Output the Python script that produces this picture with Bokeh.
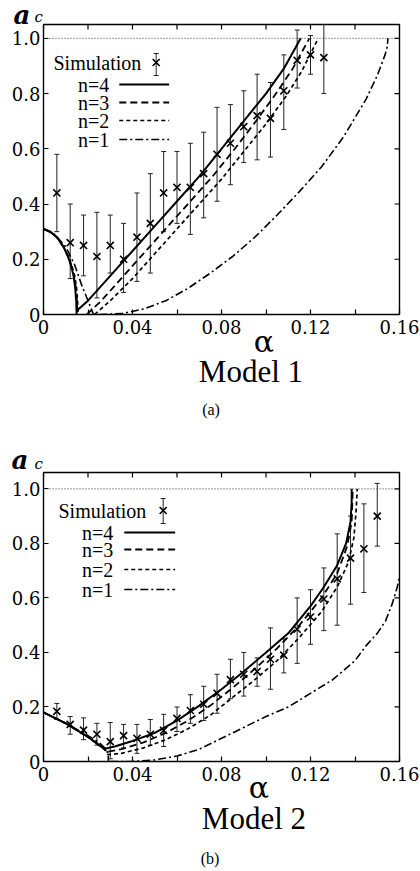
import math
from bokeh.plotting import figure
from bokeh.layouts import column
from bokeh.models import (Range1d, LinearAxis, FixedTicker, Label, Span, Whisker,
                          TeeHead, ColumnDataSource, CustomJSTickFormatter)
from bokeh.embed import file_html
from bokeh.resources import INLINE

NaN = float("nan")
SERIF = "DejaVu Serif"
TIMES = "Liberation Serif"

# ---------------------------------------------------------------- axes
alpha_ticks = [0, 0.04, 0.08, 0.12, 0.16]
alpha_minor_ticks = [0.02, 0.06, 0.10, 0.14]
alpha_tick_labels = ["0", "0.04", "0.08", "0.12", "0.16"]
ac_ticks = [0, 0.2, 0.4, 0.6, 0.8, 1.0]
ac_tick_labels = ["0", "0.2", "0.4", "0.6", "0.8", "1.0"]
alpha_max = 0.16
ac_limit = 1.0

legend_labels = ["n=4", "n=3", "n=2", "n=1"]

# ---------------------------------------------------------------- Model 1
m1_sim_alpha = [0.006, 0.012, 0.018, 0.024, 0.030, 0.036, 0.042, 0.048, 0.054, 0.060, 0.066,
                0.072, 0.078, 0.084, 0.090, 0.096, 0.102, 0.108, 0.114, 0.120, 0.126]
m1_sim_ac = [0.44, 0.26, 0.25, 0.21, 0.25, 0.20, 0.28, 0.33, 0.44, 0.46, 0.46,
             0.51, 0.58, 0.62, 0.68, 0.72, 0.71, 0.81, 0.92, 0.94, 0.93]
m1_sim_lo = [0.30, 0.13, 0.14, 0.06, 0.15, 0.08, 0.12, 0.15, 0.30, 0.33, 0.29,
             0.35, 0.41, 0.47, 0.55, 0.56, 0.57, 0.67, 0.82, 0.87, 0.80]
m1_sim_hi = [0.58, 0.40, 0.36, 0.37, 0.36, 0.33, 0.44, 0.51, 0.59, 0.59, 0.62,
             0.66, 0.75, 0.76, 0.81, 0.87, 0.84, 0.94, 1.03, 1.01, 1.08]

m1_n4_alpha = [0, 0.003, 0.006, 0.009, 0.011, 0.0125, 0.0135, 0.0142, 0.0147, 0.0149, NaN,
               0.0152, 0.020, 0.030, 0.040, 0.050, 0.060, 0.070, 0.080, 0.090, 0.100, 0.108, 0.1156]
m1_n4_ac = [0.31, 0.30, 0.28, 0.245, 0.21, 0.175, 0.14, 0.10, 0.05, 0.0, NaN,
            0.015, 0.05, 0.14, 0.23, 0.32, 0.41, 0.50, 0.60, 0.70, 0.80, 0.89, 1.0]
m1_n3_alpha = [0, 0.003, 0.006, 0.009, 0.011, 0.0125, 0.0137, 0.0145, 0.015, 0.0152, NaN,
               0.0195, 0.026, 0.036, 0.046, 0.056, 0.066, 0.076, 0.086, 0.0955, 0.1045, 0.112, 0.1195]
m1_n3_ac = [0.31, 0.30, 0.28, 0.245, 0.21, 0.175, 0.14, 0.10, 0.05, 0.0, NaN,
            0.0, 0.05, 0.14, 0.23, 0.32, 0.41, 0.50, 0.60, 0.70, 0.80, 0.89, 1.0]
m1_n2_alpha = [0, 0.003, 0.006, 0.009, 0.0112, 0.0128, 0.014, 0.0148, 0.0153, 0.0156, NaN,
               0.023, 0.030, 0.040, 0.050, 0.060, 0.070, 0.080, 0.090, 0.100, 0.109, 0.116, 0.1235]
m1_n2_ac = [0.31, 0.30, 0.28, 0.245, 0.21, 0.175, 0.14, 0.10, 0.05, 0.0, NaN,
            0.0, 0.05, 0.13, 0.22, 0.31, 0.40, 0.49, 0.59, 0.69, 0.79, 0.88, 1.0]
m1_n1_alpha = [0, 0.005, 0.010, 0.014, 0.017, 0.020, 0.0215, 0.0225, NaN,
               0.025, 0.035, 0.045, 0.055, 0.065, 0.075, 0.085, 0.095, 0.105, 0.115,
               0.125, 0.135, 0.145, 0.150, 0.1535, 0.1545, 0.1548]
m1_n1_ac = [0.31, 0.29, 0.245, 0.18, 0.11, 0.05, 0.02, 0.0, NaN,
            0.0, 0.003, 0.02, 0.05, 0.095, 0.15, 0.21, 0.28, 0.36, 0.445,
            0.535, 0.645, 0.78, 0.865, 0.94, 0.97, 1.0]

# ---------------------------------------------------------------- Model 2
m2_sim_alpha = [0.006, 0.012, 0.018, 0.024, 0.030, 0.036, 0.042, 0.048, 0.054, 0.060, 0.066,
                0.072, 0.078, 0.084, 0.090, 0.096, 0.102, 0.108, 0.114, 0.120, 0.126,
                0.132, 0.138, 0.144, 0.150]
m2_sim_ac = [0.184, 0.136, 0.115, 0.100, 0.073, 0.095, 0.085, 0.100, 0.114, 0.158, 0.187,
             0.21, 0.25, 0.30, 0.32, 0.33, 0.375, 0.39, 0.485, 0.53, 0.596,
             0.67, 0.746, 0.78, 0.90]
m2_sim_lo = [0.154, 0.10, 0.08, 0.06, 0.01, 0.05, 0.03, 0.06, 0.055, 0.11, 0.14,
             0.15, 0.177, 0.23, 0.24, 0.276, 0.265, 0.325, 0.36, 0.43, 0.48,
             0.50, 0.577, 0.62, 0.79]
m2_sim_hi = [0.213, 0.165, 0.16, 0.14, 0.143, 0.136, 0.136, 0.154, 0.173, 0.20, 0.245,
             0.276, 0.32, 0.375, 0.40, 0.38, 0.49, 0.45, 0.60, 0.63, 0.71,
             0.835, 0.90, 0.945, 1.02]

m2_n4_alpha = [0, 0.005, 0.010, 0.015, 0.020, 0.025, 0.0275, 0.032, 0.040, 0.050, 0.060, 0.070,
               0.080, 0.090, 0.100, 0.110, 0.120, 0.126, 0.132, 0.136, 0.138, 0.1385, 0.1385]
m2_n4_ac = [0.18, 0.16, 0.14, 0.115, 0.09, 0.06, 0.047, 0.055, 0.075, 0.105, 0.15, 0.205,
            0.265, 0.33, 0.40, 0.47, 0.57, 0.64, 0.72, 0.80, 0.88, 0.95, 1.0]
m2_n3_alpha = [0, 0.005, 0.010, 0.015, 0.020, 0.025, 0.0275, 0.028, 0.035, 0.045, 0.055, 0.065,
               0.075, 0.085, 0.095, 0.105, 0.115, 0.125, 0.132, 0.1365, 0.1385, 0.139]
m2_n3_ac = [0.18, 0.16, 0.14, 0.115, 0.09, 0.06, 0.045, 0.035, 0.045, 0.07, 0.105, 0.15,
            0.205, 0.27, 0.34, 0.415, 0.50, 0.60, 0.69, 0.79, 0.88, 1.0]
m2_n2_alpha = [0, 0.005, 0.010, 0.015, 0.020, 0.025, 0.028, 0.029, 0.035, 0.045, 0.055, 0.065,
               0.075, 0.085, 0.095, 0.105, 0.115, 0.125, 0.132, 0.137, 0.1395, 0.1405, 0.141]
m2_n2_ac = [0.18, 0.16, 0.14, 0.115, 0.09, 0.06, 0.04, 0.025, 0.03, 0.05, 0.08, 0.12,
            0.17, 0.235, 0.30, 0.37, 0.455, 0.55, 0.64, 0.73, 0.82, 0.92, 1.0]
m2_n1_alpha = [0, 0.010, 0.020, 0.025, 0.0275, 0.029, 0.0292, NaN,
               0.030, 0.040, 0.050, 0.060, 0.070, 0.080, 0.090, 0.100, 0.110, 0.120,
               0.130, 0.140, 0.145, 0.150, 0.1537, 0.1568, 0.159, 0.160]
m2_n1_ac = [0.18, 0.14, 0.095, 0.07, 0.05, 0.03, 0.0, NaN,
            0.0, 0.0, 0.006, 0.02, 0.045, 0.085, 0.125, 0.165, 0.20, 0.25,
            0.30, 0.37, 0.425, 0.47, 0.515, 0.58, 0.64, 0.68]

# line style per order n
curve_styles = {
    "n=4": dict(line_dash="solid", line_width=2.0),
    "n=3": dict(line_dash="7 4", line_width=1.8),
    "n=2": dict(line_dash="4 3", line_width=1.7),
    "n=1": dict(line_dash="8 3 2 3", line_width=1.6),
}

FRAME_LEFT, FRAME_RIGHT = 42, 399
WIDTH = 420


def tick_formatter(vals, labs):
    return CustomJSTickFormatter(args=dict(vals=vals, labs=labs), code="""
        let best = 0;
        for (let i = 0; i < vals.length; i++) {
            if (Math.abs(vals[i] - tick) < Math.abs(vals[best] - tick)) best = i;
        }
        return labs[best];
    """)


def style_axis(ax, standoff):
    ax.axis_line_color = None
    ax.major_tick_in = 5
    ax.major_tick_out = 0
    ax.minor_tick_in = 5
    ax.minor_tick_out = 0
    ax.major_tick_line_color = "black"
    ax.minor_tick_line_color = "black"
    ax.major_tick_line_width = 1.2
    ax.minor_tick_line_width = 1.2
    ax.major_label_text_font = SERIF
    ax.major_label_text_font_size = "18px"
    ax.major_label_text_color = "black"
    ax.major_label_standoff = standoff


def make_panel(cfg):
    # pixel positions in cfg are measured from the top-left of this panel
    h = cfg["height"]
    top, bottom = cfg["frame_top"], cfg["frame_bottom"]
    y_max = cfg["y_max"]
    p = figure(width=WIDTH, height=h, x_range=Range1d(0, alpha_max), y_range=Range1d(0, y_max),
               output_backend="svg", toolbar_location=None,
               x_axis_location=None, y_axis_location=None,
               min_border_left=FRAME_LEFT, min_border_right=WIDTH - FRAME_RIGHT,
               min_border_top=top, min_border_bottom=h - bottom)
    p.outline_line_color = "black"
    p.outline_line_width = 1.4
    p.grid.grid_line_color = None

    xax = LinearAxis(ticker=FixedTicker(ticks=alpha_ticks, minor_ticks=alpha_minor_ticks),
                     formatter=tick_formatter(alpha_ticks, alpha_tick_labels))
    style_axis(xax, 5)
    p.add_layout(xax, "below")
    yax = LinearAxis(ticker=FixedTicker(ticks=ac_ticks, minor_ticks=[]),
                     formatter=tick_formatter(ac_ticks, ac_tick_labels))
    style_axis(yax, 3)
    p.add_layout(yax, "left")

    # inward ticks on the top and right edges (outer halves fall outside the frame)
    all_alpha_ticks = sorted(alpha_ticks + alpha_minor_ticks)
    p.scatter(all_alpha_ticks, [y_max] * len(all_alpha_ticks), marker="dash", angle=math.pi / 2,
              size=10, line_color="black", line_width=1.2)
    p.scatter([alpha_max] * len(ac_ticks), ac_ticks, marker="dash", size=10,
              line_color="black", line_width=1.2)

    def to_data(px, py):
        a = (px - FRAME_LEFT) / (FRAME_RIGHT - FRAME_LEFT) * alpha_max
        y = y_max * (bottom - py) / (bottom - top)
        return a, y

    def caption(pos, text, font, size, side, align="center", style="normal"):
        # labels kept in side panels are drawn without clipping to the frame
        x, y = to_data(*pos)
        p.add_layout(Label(x=x, y=y, text=text, text_font=font, text_font_size=size,
                           text_font_style=style, text_align=align,
                           text_baseline="middle", text_color="black"), side)

    # a_c = 1 reference line
    p.add_layout(Span(location=ac_limit, dimension="width", line_color="#333",
                      line_width=1, line_dash="1 2"))

    # theory curves
    for name, (xs, ys) in cfg["curves"].items():
        p.line(xs, ys, line_color="black", **curve_styles[name])

    # simulation with error bars
    src = ColumnDataSource(dict(alpha=cfg["sim"][0], ac=cfg["sim"][1],
                                lo=cfg["sim"][2], hi=cfg["sim"][3]))
    p.add_layout(Whisker(source=src, base="alpha", lower="lo", upper="hi",
                         line_color="#222", line_width=1,
                         upper_head=TeeHead(size=5, line_color="#222", line_width=1),
                         lower_head=TeeHead(size=5, line_color="#222", line_width=1)))
    p.scatter("alpha", "ac", source=src, marker="x", size=10, line_color="black",
              line_width=1.6)

    # legend: label text on the left, sample on the right
    lg = cfg["legend"]
    sx, sy = to_data(lg["sim_text_x"], lg["sim_y"])
    p.add_layout(Label(x=sx, y=sy, text="Simulation", text_font=TIMES, text_font_size="20px",
                       text_align="left", text_baseline="middle", text_color="black"))
    mx, my = to_data(lg["marker_x"], lg["sim_y"])
    _, mlo = to_data(0, lg["bar"][1])
    _, mhi = to_data(0, lg["bar"][0])
    msrc = ColumnDataSource(dict(alpha=[mx], ac=[my], lo=[mlo], hi=[mhi]))
    p.add_layout(Whisker(source=msrc, base="alpha", lower="lo", upper="hi",
                         line_color="#222", line_width=1,
                         upper_head=TeeHead(size=5, line_color="#222", line_width=1),
                         lower_head=TeeHead(size=5, line_color="#222", line_width=1)))
    p.scatter("alpha", "ac", source=msrc, marker="x", size=10, line_color="black",
              line_width=1.6)
    for name, row_y in zip(legend_labels, lg["rows"]):
        tx, ty = to_data(lg["text_right"], row_y)
        p.add_layout(Label(x=tx, y=ty, text=name, text_font=TIMES, text_font_size="20px",
                           text_align="right", text_baseline="middle", text_color="black"))
        x0, y0 = to_data(lg["line"][0], row_y)
        x1, _ = to_data(lg["line"][1], row_y)
        p.segment(x0=[x0], y0=[y0], x1=[x1], y1=[y0], line_color="black",
                  **curve_styles[name])

    # texts around the frame; each goes to a side whose border has room for it
    caption(cfg["a_pos"], "a", SERIF, "26px", cfg["a_side"], align="left", style="bold italic")
    caption(cfg["c_pos"], "c", SERIF, "15px", "left", align="left", style="italic")
    caption(cfg["alpha_pos"], "α", SERIF, "30px", "below")
    caption(cfg["model_pos"], cfg["model"], TIMES, "31px", "below")
    caption(cfg["sub_pos"], cfg["sub"], TIMES, "16px", cfg["sub_side"])
    return p


panel1 = dict(
    height=420, frame_top=24, frame_bottom=314, y_max=1.05,
    sim=(m1_sim_alpha, m1_sim_ac, m1_sim_lo, m1_sim_hi),
    curves={"n=1": (m1_n1_alpha, m1_n1_ac), "n=2": (m1_n2_alpha, m1_n2_ac),
            "n=3": (m1_n3_alpha, m1_n3_ac), "n=4": (m1_n4_alpha, m1_n4_ac)},
    legend=dict(sim_text_x=52, sim_y=62, marker_x=155, bar=(53, 75),
                rows=[84, 102, 120, 139], text_right=108, line=(118, 168)),
    a_pos=(12, 14.5), a_side="right", c_pos=(33, 16.5),
    alpha_pos=(263, 341), model_pos=(250, 371),
    sub_pos=(210, 409), sub_side="above", model="Model 1", sub="(a)",
)

panel2 = dict(
    height=451, frame_top=52, frame_bottom=341, y_max=1.06,
    sim=(m2_sim_alpha, m2_sim_ac, m2_sim_lo, m2_sim_hi),
    curves={"n=1": (m2_n1_alpha, m2_n1_ac), "n=2": (m2_n2_alpha, m2_n2_ac),
            "n=3": (m2_n3_alpha, m2_n3_ac), "n=4": (m2_n4_alpha, m2_n4_ac)},
    legend=dict(sim_text_x=57, sim_y=90, marker_x=162, bar=(78, 103),
                rows=[112, 129, 149, 169], text_right=112, line=(123, 174)),
    a_pos=(10, 39.5), a_side="above", c_pos=(33, 43),
    alpha_pos=(258, 367), model_pos=(253, 398),
    sub_pos=(209, 438), sub_side="right", model="Model 2", sub="(b)",
)

layout = column(make_panel(panel1), make_panel(panel2), spacing=0)

with open("out.html", "w") as f:
    f.write(file_html(layout, INLINE))
